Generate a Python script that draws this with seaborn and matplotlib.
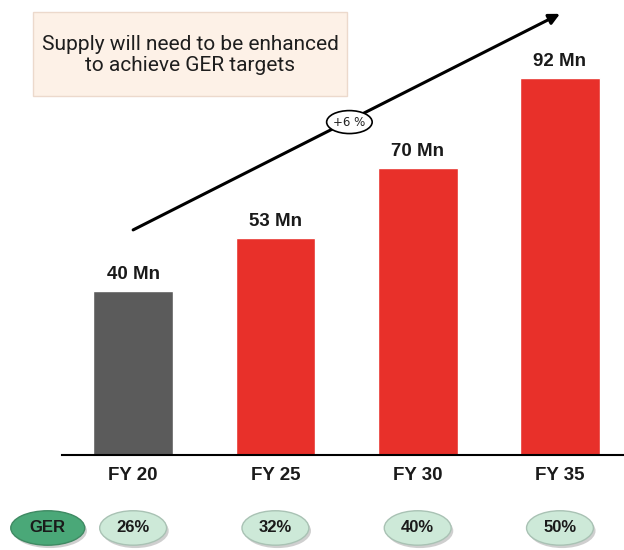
import matplotlib
matplotlib.use("Agg")
import matplotlib.pyplot as plt
import seaborn as sns
import pandas as pd
from matplotlib.patches import Ellipse, FancyBboxPatch

# -------------------------------
# DATA
# -------------------------------
years = ["FY 20", "FY 25", "FY 30", "FY 35"]
supply_mn = [40, 53, 70, 92]
ger_pct = ["26%", "32%", "40%", "50%"]
bar_colors = ["#5b5b5b", "#e8302a", "#e8302a", "#e8302a"]
cagr_label = "+6 %"
note_text = "Supply will need to be enhanced\nto achieve GER targets"

df = pd.DataFrame({"year": years, "supply": supply_mn})

# -------------------------------
# FIGURE
# -------------------------------
sns.set_style("white")
plt.rcParams["font.family"] = ["Liberation Sans", "DejaVu Sans"]

fig = plt.figure(figsize=(6.24, 5.5), dpi=100)
ax = fig.add_axes([62 / 624, 95 / 550, 562 / 624, 455 / 550])

sns.barplot(data=df, x="year", y="supply", hue="year", palette=bar_colors,
            width=0.56, legend=False, ax=ax, saturation=1)

ax.set_xlim(-0.5, 3.45)
ax.set_ylim(0, 455 / 4.1)
ax.set_xlabel("")
ax.set_ylabel("")
ax.set_yticks([])
for side in ["top", "right", "left"]:
    ax.spines[side].set_visible(False)
ax.spines["bottom"].set_color("black")
ax.spines["bottom"].set_linewidth(1.5)
ax.tick_params(axis="x", length=0, pad=9)
for lbl in ax.get_xticklabels():
    lbl.set_fontsize(13.5)
    lbl.set_fontweight("bold")
    lbl.set_color("#1a1a1a")

# value labels
for i, v in enumerate(supply_mn):
    ax.text(i, v + 2.0, f"{v} Mn", ha="center", va="bottom",
            fontsize=13.5, fontweight="bold", color="#1a1a1a")

# growth arrow
ax.annotate("", xy=(3.0, 107.6), xytext=(0.0, 54.9),
            arrowprops=dict(arrowstyle="-|>", color="black", lw=2.2,
                            mutation_scale=16, shrinkA=0, shrinkB=0),
            annotation_clip=False)
ax.add_patch(Ellipse((1.52, 81.2), 0.32, 5.6, facecolor="white",
                     edgecolor="black", lw=1.2, zorder=5, clip_on=False))
ax.text(1.52, 81.2, cagr_label, ha="center", va="center", fontsize=8.5,
        color="#222222", zorder=6, family=["DejaVu Sans"])

# note box
fig.patches.append(FancyBboxPatch((33 / 624, 1 - 96 / 550), 314 / 624, 84 / 550,
                                  boxstyle="square,pad=0", transform=fig.transFigure,
                                  facecolor="#fdf1e7", edgecolor="#ecd9cc", lw=1))
fig.text(190 / 624, 1 - 55 / 550, note_text, ha="center", va="center",
         fontsize=15, color="#1e1e1e", family=["Roboto", "DejaVu Sans"],
         linespacing=1.1)

# GER pills
pill_y = -17.8
ax.add_patch(Ellipse((-0.6 + 0.015, pill_y - 0.7), 0.52, 8.4, facecolor="#a0a0a0",
                     edgecolor="none", alpha=0.5, clip_on=False))
ax.add_patch(Ellipse((-0.6, pill_y), 0.52, 8.4, facecolor="#4aa878",
                     edgecolor="#3f8a63", lw=1, clip_on=False))
ax.text(-0.6, pill_y, "GER", ha="center", va="center", fontsize=12,
        fontweight="bold", color="#1a1a1a")
for i, g in enumerate(ger_pct):
    ax.add_patch(Ellipse((i + 0.015, pill_y - 0.7), 0.47, 8.4, facecolor="#a0a0a0",
                         edgecolor="none", alpha=0.5, clip_on=False))
    ax.add_patch(Ellipse((i, pill_y), 0.47, 8.4, facecolor="#cde9d8",
                         edgecolor="#a9c2b4", lw=1, clip_on=False))
    ax.text(i, pill_y, g, ha="center", va="center", fontsize=12,
            fontweight="bold", color="#1a1a1a")

fig.savefig("out.png", dpi=100)
